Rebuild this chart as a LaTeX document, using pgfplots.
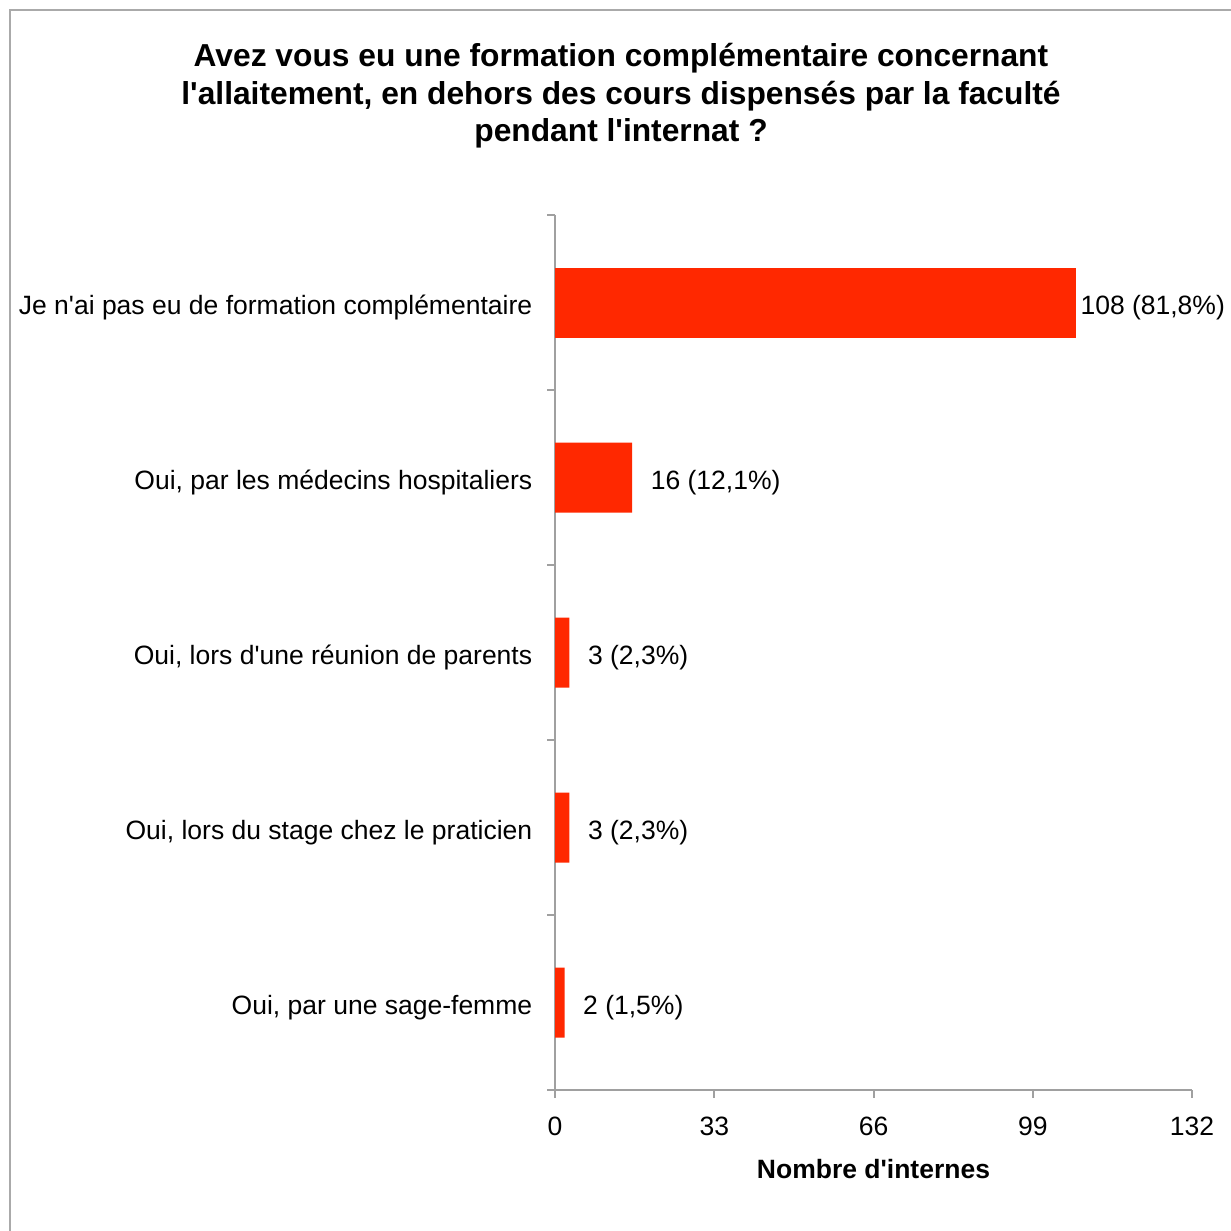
\documentclass[border=0pt]{standalone}
\usepackage{fontspec}
\setmainfont{Liberation Sans}
\usepackage{pgfplots}
\usepackage{pgfplotstable}
\pgfplotsset{compat=1.18}
\definecolor{barred}{RGB}{255,40,0}
\definecolor{axgray}{RGB}{160,160,160}
\definecolor{framegray}{RGB}{170,170,170}
\newcommand{\q}{\textquotesingle}
\pgfplotstableread[col sep=semicolon]{
y;x;lab
0;108;108 (81,8\%)
}\tabA
\pgfplotstableread[col sep=semicolon]{
y;x;lab
1;16;16 (12,1\%)
2;3;3 (2,3\%)
3;3;3 (2,3\%)
4;2;2 (1,5\%)
}\tabB
\begin{document}
\fontsize{10.6}{12.7}\selectfont
\begin{tikzpicture}[x=0.4pt,y=-0.4pt]
\useasboundingbox (0,0) rectangle (1231,1231);
\draw[framegray,line width=0.8pt] (10,1300) -- (10,10) -- (1300,10);
\node[align=center,font=\fontsize{12.7}{15}\selectfont\bfseries] at (621,96)
 {Avez vous eu une formation complémentaire concernant\\l\q allaitement, en dehors des cours dispensés par la faculté\\pendant l\q internat ?};
\begin{axis}[
 at={(222pt,-436pt)}, anchor=south west,
 width=254.8pt, height=350pt, scale only axis,
 xmin=0, xmax=132, ymin=-0.5, ymax=4.5, y dir=reverse,
 axis lines*=left,
 axis line style={axgray,line width=0.8pt},
 every tick/.style={axgray,line width=0.8pt},
 tick align=outside,
 xtick={0,33,66,99,132},
 major tick length=3.2pt,
 ytick={-0.5,0.5,1.5,2.5,3.5,4.5},
 yticklabels={},
 extra y ticks={0,1,2,3,4},
 extra y tick labels={{Je n\q ai pas eu de formation complémentaire},{Oui, par les médecins hospitaliers},{Oui, lors d\q une réunion de parents},{Oui, lors du stage chez le praticien},{Oui, par une sage-femme}},
 extra y tick style={ytick style={draw=none}},
 yticklabel style={font=\fontsize{10.6}{12.7}\selectfont, xshift=-2.2pt, yshift=-2pt},
 xticklabel style={font=\fontsize{10.6}{12.7}\selectfont, yshift=-4pt},
 /pgf/number format/assume math mode=true,
 xlabel={\bfseries Nombre d\q internes},
 xlabel style={font=\fontsize{10.6}{12.7}\selectfont, yshift=-2pt},
 xbar, bar width=28pt, bar shift=0pt,
 clip=false,
 nodes near coords style={font=\fontsize{10.6}{12.7}\selectfont, anchor=west, text=black, yshift=-2pt},
]
\addplot[fill=barred, draw=none,
 point meta=explicit symbolic,
 nodes near coords,
 nodes near coords style={xshift=-2pt}] table[x=x,y=y,meta=lab] {\tabA};
\addplot[fill=barred, draw=none,
 point meta=explicit symbolic,
 nodes near coords,
 nodes near coords style={xshift=3.7pt}] table[x=x,y=y,meta=lab] {\tabB};
\end{axis}
\end{tikzpicture}
\end{document}
